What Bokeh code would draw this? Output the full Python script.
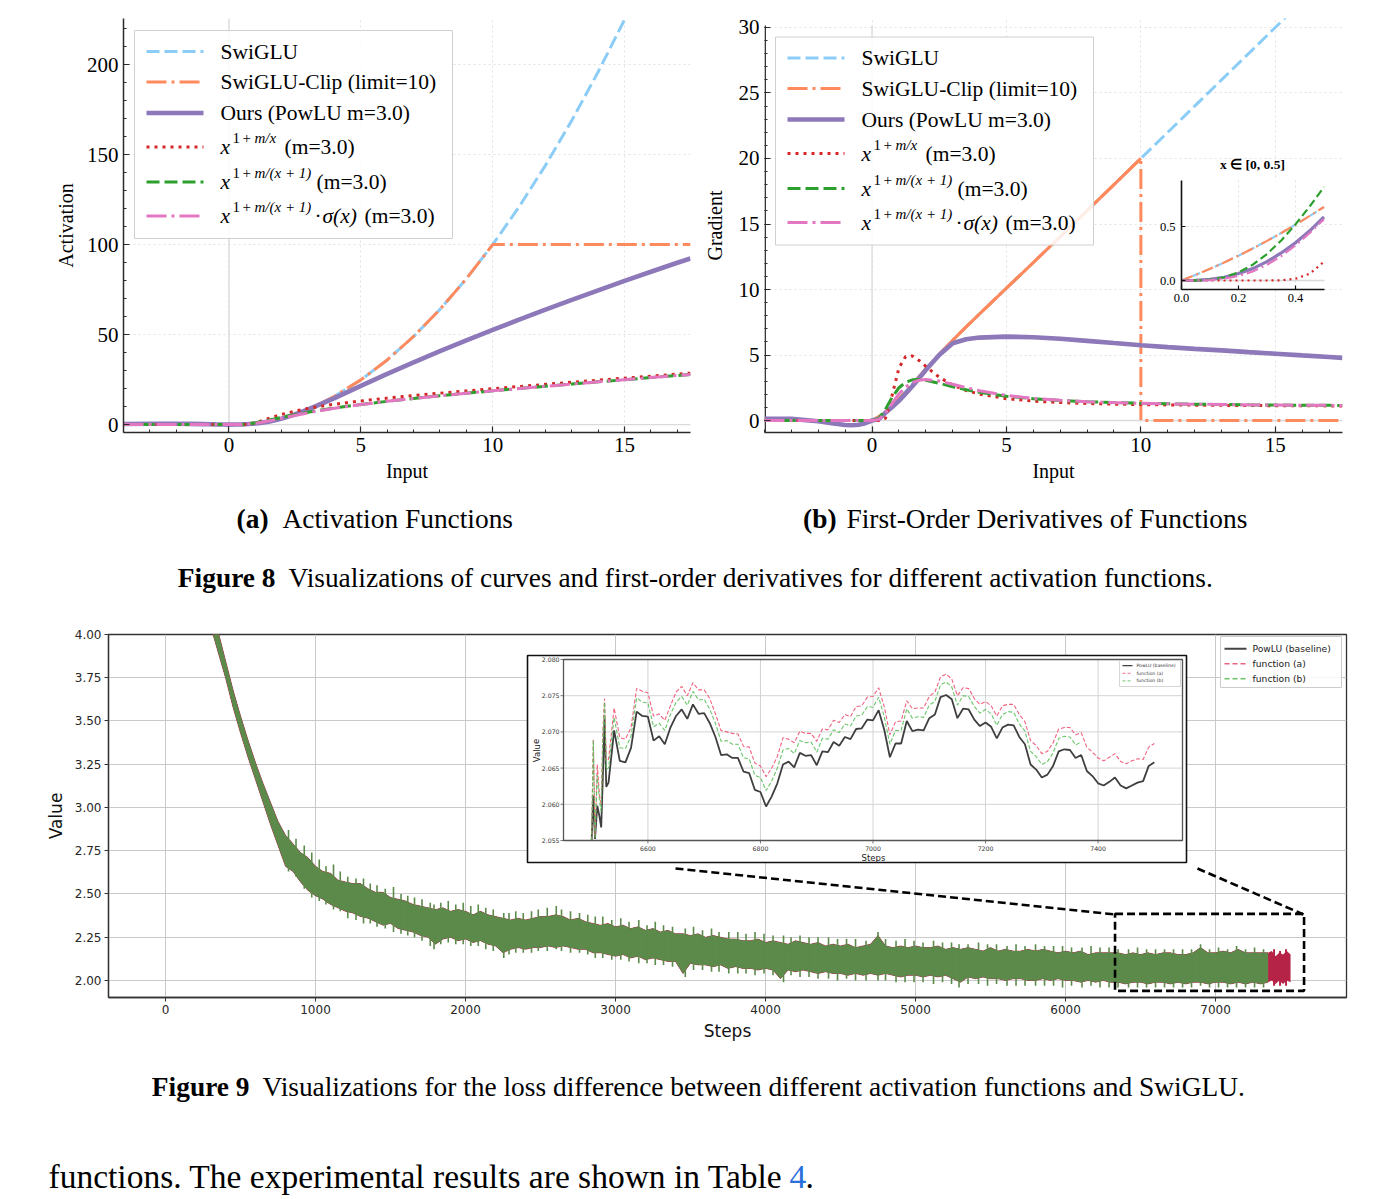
from bokeh.plotting import figure
from bokeh.layouts import column, row
from bokeh.models import Range1d, FixedTicker, Span, PrintfTickFormatter
from bokeh.core.properties import value
from bokeh.embed import file_html
from bokeh.resources import INLINE

SERIF = "Liberation Serif"
SANS = "DejaVu Sans"

# ---------------------------------------------------------------------------
# Figure 8: activation curves and their first-order derivatives
# ---------------------------------------------------------------------------
x_in = [-4, -3, -2, -1.5, -1, -0.75, -0.5, -0.25, 0,
        0.25, 0.5, 0.75, 1, 1.25, 1.5, 1.75, 2,
        2.5, 3, 3.5, 4,
        5, 6, 7, 8, 9, 10, 11, 12, 13, 14, 15, 16, 17,
        17.5]

act_swiglu = [0.288, 0.427, 0.477, 0.410, 0.269, 0.181, 0.094, 0.027, 0.0,
              0.035, 0.156, 0.382, 0.731, 1.215, 1.840, 2.609, 3.523,
              5.776, 8.573, 11.891, 15.712,
              24.83, 35.91, 48.96, 63.98, 80.99, 100.0, 121.0, 144.0, 169.0, 196.0, 225.0, 256.0, 289.0,
              306.25]
act_clip = [0.288, 0.427, 0.477, 0.410, 0.269, 0.181, 0.094, 0.027, 0.0,
            0.035, 0.156, 0.382, 0.731, 1.215, 1.840, 2.609, 3.523,
            5.776, 8.573, 11.891, 15.712,
            24.83, 35.91, 48.96, 63.98, 80.99, 100.0, 100.0, 100.0, 100.0, 100.0, 100.0, 100.0, 100.0,
            100.0]
act_ours = [0.288, 0.427, 0.477, 0.410, 0.269, 0.181, 0.094, 0.027, 0.0,
            0.01, 0.09, 0.30, 0.62, 1.06, 1.63, 2.37, 3.30,
            5.60, 8.40, 11.50, 14.70,
            21.5, 28.2, 34.6, 40.8, 46.8, 52.6, 58.3, 63.9, 69.3, 74.6, 79.8, 84.9, 89.9,
            92.3]
act_pow_x = [0.0, 0.0, 0.0, 0.0, 0.0, 0.0, 0.0, 0.0, 0.0,
             0.0, 0.008, 0.237, 1.0, 2.135, 3.375, 4.567, 5.657,
             7.507, 9.0, 10.24, 11.31,
             13.13, 14.70, 16.12, 17.45, 18.72, 19.95, 21.16, 22.34, 23.50, 24.65, 25.78, 26.91, 28.03,
             28.58]
act_pow_x1 = [0.0, 0.0, 0.0, 0.0, 0.0, 0.0, 0.0, 0.0, 0.0,
              0.009, 0.125, 0.458, 1.0, 1.683, 2.440, 3.222, 4.0,
              5.483, 6.839, 8.069, 9.190,
              11.18, 12.93, 14.52, 16.00, 17.40, 18.74, 20.03, 21.29, 22.52, 23.73, 24.92, 26.10, 27.26,
              27.84]
act_pow_sig = [0.0, 0.0, 0.0, 0.0, 0.0, 0.0, 0.0, 0.0, 0.0,
               0.005, 0.078, 0.311, 0.731, 1.308, 1.995, 2.745, 3.523,
               5.067, 6.515, 7.833, 9.025,
               11.105, 12.90, 14.51, 15.99, 17.40, 18.74, 20.03, 21.29, 22.52, 23.73, 24.92, 26.10, 27.26,
               27.84]

grad_swiglu = [0.139, 0.122, -0.057, -0.212, -0.341, -0.359, -0.319, -0.204, 0.0,
               0.296, 0.681, 1.141, 1.659, 2.214, 2.788, 3.368, 3.943,
               5.059, 6.122, 7.143, 8.139,
               10.099, 12.059, 14.032, 16.016, 18.008, 20.004, 22.0, 24.0, 26.0, 28.0, 30.0, 32.0, 34.0,
               35.0]
# the clipped variant drops to zero at the limit, so x = 10 appears twice
x_clip_grad = [-4, -3, -2, -1.5, -1, -0.75, -0.5, -0.25, 0,
               0.25, 0.5, 0.75, 1, 1.25, 1.5, 1.75, 2,
               2.5, 3, 3.5, 4,
               5, 6, 7, 8, 9, 10, 10, 11, 12, 13, 14, 15, 16, 17,
               17.5]
grad_clip = [0.139, 0.122, -0.057, -0.212, -0.341, -0.359, -0.319, -0.204, 0.0,
             0.296, 0.681, 1.141, 1.659, 2.214, 2.788, 3.368, 3.943,
             5.059, 6.122, 7.143, 8.139,
             10.099, 12.059, 14.032, 16.016, 18.008, 20.004, 0.0, 0.0, 0.0, 0.0, 0.0, 0.0, 0.0, 0.0,
             0.0]
grad_ours = [0.139, 0.122, -0.057, -0.212, -0.341, -0.359, -0.319, -0.204, 0.0,
             0.11, 0.59, 1.03, 1.50, 2.05, 2.62, 3.22, 3.85,
             5.00, 5.90, 6.20, 6.33,
             6.40, 6.36, 6.24, 6.08, 5.91, 5.75, 5.60, 5.47, 5.35, 5.22, 5.10, 4.97, 4.85,
             4.78]
grad_pow_x = [0.0, 0.0, 0.0, 0.0, 0.0, 0.0, 0.0, 0.0, 0.0,
              0.0, 0.174, 1.944, 4.0, 4.893, 4.925, 4.580, 4.130,
              3.305, 2.704, 2.292, 2.008,
              1.666, 1.480, 1.370, 1.298, 1.250, 1.216, 1.190, 1.171, 1.155, 1.142, 1.132, 1.123, 1.115,
              1.112]
grad_pow_x1 = [0.0, 0.0, 0.0, 0.0, 0.0, 0.0, 0.0, 0.0, 0.0,
               0.146, 0.866, 1.787, 2.5, 2.919, 3.104, 3.134, 3.076,
               2.843, 2.581, 2.345, 2.147,
               1.855, 1.660, 1.528, 1.435, 1.366, 1.315, 1.276, 1.245, 1.220, 1.199, 1.182, 1.168, 1.156,
               1.150]
grad_pow_sig = [0.0, 0.0, 0.0, 0.0, 0.0, 0.0, 0.0, 0.0, 0.0,
                0.084, 0.568, 1.314, 2.024, 2.560, 2.902, 3.077, 3.129,
                3.012, 2.768, 2.506, 2.271,
                1.917, 1.688, 1.540, 1.440, 1.368, 1.316, 1.276, 1.245, 1.220, 1.199, 1.182, 1.168, 1.156,
                1.150]

# close-up of the gradients on x in [0, 0.5]
x_near0 = [0.0, 0.05, 0.1, 0.15, 0.2, 0.25, 0.3, 0.35, 0.4, 0.45, 0.5]
near_swiglu = [0.0, 0.052, 0.108, 0.167, 0.230, 0.296, 0.367, 0.440, 0.517, 0.598, 0.681]
near_clip = [0.0, 0.052, 0.108, 0.167, 0.230, 0.296, 0.367, 0.440, 0.517, 0.598, 0.681]
near_ours = [0.0, 0.002, 0.010, 0.030, 0.065, 0.110, 0.175, 0.255, 0.350, 0.460, 0.590]
near_pow_x = [0.0, 0.0, 0.0, 0.0, 0.0, 0.0, 0.0002, 0.0023, 0.016, 0.063, 0.174]
near_pow_x1 = [0.0, 0.001, 0.008, 0.030, 0.075, 0.146, 0.245, 0.371, 0.520, 0.686, 0.866]
near_pow_sig = [0.0, 0.0004, 0.004, 0.017, 0.042, 0.084, 0.146, 0.226, 0.325, 0.440, 0.568]

# ---------------------------------------------------------------------------
# Figure 9: training loss (envelope of the noisy curves) and a late-stage close-up
# ---------------------------------------------------------------------------
band_steps = list(range(300, 7351, 50))
band_hi = [4.15, 4.02, 3.85, 3.68, 3.53, 3.39, 3.26, 3.14, 3.03, 2.92,
           2.84, 2.79, 2.74, 2.71, 2.66, 2.63, 2.62, 2.58, 2.57, 2.56,
           2.56, 2.53, 2.51, 2.51, 2.48, 2.47, 2.46, 2.44, 2.43, 2.42,
           2.41, 2.42, 2.40, 2.41, 2.40, 2.38, 2.40, 2.38, 2.37, 2.36,
           2.35, 2.36, 2.35, 2.36, 2.37, 2.37, 2.38, 2.37, 2.35, 2.36,
           2.34, 2.33, 2.32, 2.33, 2.31, 2.32, 2.30, 2.31, 2.29, 2.30,
           2.28, 2.29, 2.27, 2.27, 2.26, 2.27, 2.25, 2.26, 2.25, 2.24,
           2.24, 2.23, 2.23, 2.24, 2.22, 2.23, 2.22, 2.21, 2.23, 2.22,
           2.21, 2.22, 2.20, 2.21, 2.20, 2.21, 2.19, 2.20, 2.21, 2.26,
           2.20, 2.19, 2.20, 2.19, 2.20, 2.19, 2.19, 2.20, 2.18, 2.19,
           2.18, 2.19, 2.18, 2.17, 2.19, 2.17, 2.18, 2.17, 2.17, 2.18,
           2.17, 2.18, 2.17, 2.16, 2.17, 2.16, 2.17, 2.15, 2.16, 2.16,
           2.16, 2.16, 2.15, 2.16, 2.15, 2.16, 2.15, 2.16, 2.16, 2.15,
           2.15, 2.16, 2.19, 2.16, 2.16, 2.17, 2.16, 2.18, 2.16, 2.16,
           2.16, 2.16]
band_lo = [4.05, 3.90, 3.75, 3.58, 3.43, 3.29, 3.16, 3.03, 2.90, 2.78,
           2.66, 2.63, 2.57, 2.52, 2.49, 2.47, 2.44, 2.42, 2.40, 2.39,
           2.37, 2.36, 2.34, 2.32, 2.33, 2.30, 2.29, 2.28, 2.26, 2.25,
           2.21, 2.24, 2.25, 2.23, 2.24, 2.22, 2.23, 2.21, 2.20, 2.16,
           2.18, 2.19, 2.18, 2.19, 2.19, 2.20, 2.19, 2.20, 2.19, 2.18,
           2.18, 2.16, 2.16, 2.15, 2.14, 2.15, 2.13, 2.14, 2.12, 2.13,
           2.12, 2.11, 2.11, 2.04, 2.10, 2.09, 2.09, 2.08, 2.09, 2.07,
           2.08, 2.07, 2.07, 2.06, 2.07, 2.06, 2.01, 2.06, 2.05, 2.06,
           2.05, 2.04, 2.05, 2.04, 2.04, 2.03, 2.04, 2.03, 2.04, 2.03,
           2.04, 2.03, 2.02, 2.03, 2.03, 2.02, 2.03, 2.02, 2.03, 2.01,
           1.99, 2.02, 2.01, 2.02, 2.01, 2.01, 2.00, 2.01, 2.01, 2.00,
           2.00, 2.01, 2.00, 2.01, 2.00, 2.00, 1.99, 2.00, 1.99, 2.00,
           1.99, 1.99, 1.98, 1.99, 1.99, 1.98, 1.99, 1.99, 1.98, 1.99,
           1.98, 1.99, 1.99, 1.98, 1.99, 1.99, 1.98, 1.99, 1.98, 1.99,
           1.98, 1.99]
# individual excursions of the noisy curve that poke out of the band: (step, low, high)
loss_spikes = [
    (820, 2.63, 2.87), (870, 2.60, 2.82), (925, 2.53, 2.78), (975, 2.48, 2.74),
    (1025, 2.46, 2.70), (1070, 2.44, 2.66), (1120, 2.41, 2.67), (1165, 2.40, 2.63),
    (1215, 2.36, 2.60), (1270, 2.35, 2.59), (1320, 2.33, 2.59), (1365, 2.33, 2.56),
    (1410, 2.31, 2.55), (1465, 2.30, 2.53), (1520, 2.28, 2.54), (1570, 2.27, 2.50),
    (1615, 2.26, 2.49), (1660, 2.25, 2.48), (1710, 2.23, 2.47), (1765, 2.20, 2.45),
    (1790, 2.18, 2.44), (1835, 2.21, 2.45), (1885, 2.22, 2.46), (1935, 2.21, 2.44),
    (1985, 2.21, 2.45), (2035, 2.20, 2.43), (2085, 2.20, 2.44), (2135, 2.18, 2.42),
    (2185, 2.17, 2.41), (2255, 2.13, 2.39), (2290, 2.15, 2.39), (2335, 2.16, 2.40),
    (2385, 2.16, 2.39), (2440, 2.16, 2.40), (2485, 2.17, 2.41), (2545, 2.17, 2.42),
    (2605, 2.18, 2.43), (2640, 2.17, 2.41), (2700, 2.16, 2.40), (2760, 2.16, 2.39),
    (2815, 2.15, 2.38), (2865, 2.13, 2.37), (2915, 2.13, 2.37), (2975, 2.12, 2.35),
    (3035, 2.12, 2.36), (3090, 2.11, 2.34), (3155, 2.10, 2.35), (3210, 2.10, 2.32),
    (3265, 2.09, 2.34), (3320, 2.09, 2.32), (3380, 2.08, 2.31), (3465, 2.02, 2.30),
    (3520, 2.06, 2.31), (3580, 2.06, 2.29), (3640, 2.05, 2.30), (3690, 2.05, 2.28),
    (3755, 2.04, 2.28), (3815, 2.04, 2.28), (3870, 2.04, 2.27), (3930, 2.03, 2.28),
    (3990, 2.04, 2.27), (4050, 2.03, 2.26), (4120, 1.99, 2.26), (4170, 2.03, 2.25),
    (4230, 2.02, 2.26), (4290, 2.02, 2.25), (4350, 2.01, 2.25), (4420, 2.01, 2.25),
    (4480, 2.00, 2.24), (4540, 2.01, 2.24), (4600, 2.00, 2.24), (4670, 2.00, 2.23),
    (4750, 2.00, 2.28), (4800, 2.00, 2.24), (4870, 1.99, 2.23), (4930, 1.99, 2.24),
    (4990, 1.99, 2.23), (5050, 1.99, 2.22), (5120, 1.98, 2.23), (5180, 1.99, 2.22),
    (5240, 1.98, 2.22), (5290, 1.96, 2.21), (5350, 1.98, 2.21), (5420, 1.98, 2.22),
    (5480, 1.97, 2.21), (5540, 1.98, 2.21), (5610, 1.97, 2.20), (5670, 1.97, 2.21),
    (5730, 1.97, 2.20), (5800, 1.97, 2.21), (5860, 1.97, 2.20), (5920, 1.97, 2.20),
    (5980, 1.96, 2.20), (6040, 1.97, 2.19), (6110, 1.96, 2.19), (6170, 1.97, 2.20),
    (6230, 1.96, 2.19), (6290, 1.96, 2.19), (6350, 1.96, 2.18), (6420, 1.96, 2.18),
    (6480, 1.96, 2.19), (6540, 1.96, 2.18), (6600, 1.96, 2.18), (6660, 1.96, 2.18),
    (6720, 1.96, 2.18), (6780, 1.96, 2.18), (6840, 1.96, 2.18), (6900, 1.97, 2.21),
    (6960, 1.96, 2.18), (7020, 1.96, 2.19), (7080, 1.96, 2.18), (7140, 1.96, 2.20),
    (7200, 1.96, 2.18), (7260, 1.96, 2.19), (7320, 1.96, 2.18),
]
# function (a) runs a little longer than the other two
tail_steps = [7350, 7375, 7400, 7425, 7450, 7475, 7500]
tail_hi = [2.16, 2.17, 2.14, 2.16, 2.15, 2.17, 2.15]
tail_lo = [1.99, 2.00, 1.98, 2.00, 1.98, 2.00, 1.99]
tail_spikes = [(7390, 1.97, 2.18), (7430, 1.97, 2.17), (7470, 1.97, 2.18)]

zoom_steps = (6330, 7590)
zoom_values = (1.94, 2.385)

close_steps = [6500, 6503, 6506, 6510, 6514, 6517, 6520, 6523, 6526] + list(range(6530, 7501, 10))
close_base = [2.0550, 2.0612, 2.0552, 2.0598, 2.0583, 2.0568, 2.0640, 2.0718, 2.0624,
              2.0630, 2.0702, 2.0660, 2.0658, 2.0678, 2.0728, 2.0722, 2.0721, 2.0688, 2.0694,
              2.0683, 2.0706, 2.0722, 2.0731, 2.0718, 2.0738, 2.0725, 2.0726, 2.0712, 2.0693,
              2.0668, 2.0669, 2.0664, 2.0664, 2.0645, 2.0643, 2.0620, 2.0617, 2.0597, 2.0611,
              2.0629, 2.0655, 2.0659, 2.0651, 2.0671, 2.0667, 2.0668, 2.0654, 2.0673, 2.0672,
              2.0686, 2.0681, 2.0693, 2.0690, 2.0704, 2.0705, 2.0717, 2.0716, 2.0730, 2.0703,
              2.0665, 2.0684, 2.0684, 2.0715, 2.0701, 2.0703, 2.0702, 2.0719, 2.0724, 2.0748,
              2.0751, 2.0745, 2.0719, 2.0732, 2.0731, 2.0717, 2.0708, 2.0713, 2.0707, 2.0691,
              2.0706, 2.0710, 2.0709, 2.0693, 2.0683, 2.0655, 2.0648, 2.0637, 2.0641, 2.0653,
              2.0673, 2.0676, 2.0675, 2.0664, 2.0668, 2.0646, 2.0639, 2.0629, 2.0626, 2.0631,
              2.0637, 2.0626, 2.0622, 2.0626, 2.0630, 2.0632, 2.0653, 2.0658]
close_a = [2.0550, 2.0690, 2.0556, 2.0655, 2.0612, 2.0600, 2.0702, 2.0746, 2.0660,
           2.0662, 2.0733, 2.0692, 2.0690, 2.0706, 2.0760, 2.0756, 2.0754, 2.0722, 2.0725,
           2.0716, 2.0736, 2.0755, 2.0763, 2.0750, 2.0768, 2.0758, 2.0758, 2.0746, 2.0725,
           2.0702, 2.0700, 2.0698, 2.0697, 2.0680, 2.0679, 2.0657, 2.0653, 2.0638, 2.0650,
           2.0666, 2.0692, 2.0690, 2.0685, 2.0701, 2.0698, 2.0698, 2.0687, 2.0704, 2.0703,
           2.0716, 2.0713, 2.0724, 2.0721, 2.0735, 2.0736, 2.0748, 2.0749, 2.0761, 2.0735,
           2.0696, 2.0714, 2.0715, 2.0743, 2.0732, 2.0733, 2.0733, 2.0749, 2.0755, 2.0776,
           2.0780, 2.0773, 2.0750, 2.0761, 2.0760, 2.0746, 2.0738, 2.0742, 2.0736, 2.0722,
           2.0736, 2.0738, 2.0738, 2.0724, 2.0714, 2.0688, 2.0681, 2.0670, 2.0673, 2.0685,
           2.0704, 2.0706, 2.0706, 2.0696, 2.0699, 2.0679, 2.0672, 2.0664, 2.0660, 2.0665,
           2.0670, 2.0659, 2.0656, 2.0660, 2.0663, 2.0662, 2.0679, 2.0684]
close_b = [2.0550, 2.0688, 2.0553, 2.0640, 2.0604, 2.0590, 2.0690, 2.0741, 2.0648,
           2.0650, 2.0720, 2.0678, 2.0677, 2.0694, 2.0747, 2.0741, 2.0740, 2.0707, 2.0712,
           2.0702, 2.0724, 2.0741, 2.0749, 2.0737, 2.0756, 2.0744, 2.0745, 2.0731, 2.0712,
           2.0687, 2.0688, 2.0683, 2.0683, 2.0664, 2.0663, 2.0640, 2.0637, 2.0619, 2.0632,
           2.0650, 2.0675, 2.0677, 2.0670, 2.0688, 2.0685, 2.0686, 2.0672, 2.0691, 2.0690,
           2.0703, 2.0699, 2.0711, 2.0708, 2.0722, 2.0723, 2.0735, 2.0734, 2.0748, 2.0721,
           2.0683, 2.0702, 2.0702, 2.0732, 2.0719, 2.0721, 2.0720, 2.0737, 2.0742, 2.0765,
           2.0769, 2.0762, 2.0737, 2.0750, 2.0749, 2.0735, 2.0726, 2.0731, 2.0725, 2.0709,
           2.0724, 2.0728, 2.0727, 2.0711, 2.0701, 2.0673, 2.0666, 2.0655, 2.0659, 2.0671,
           2.0691, 2.0694, 2.0693, 2.0682, 2.0686]
close_steps_b = close_steps[:len(close_b)]


# ---------------------------------------------------------------------------
# helpers
# ---------------------------------------------------------------------------
def mapped_range(d0, d1, p0, p1, f_start, f_end):
    """Range whose values d0/d1 land on page pixels p0/p1 for a frame spanning f_start..f_end."""
    k = (d1 - d0) / (p1 - p0)
    return Range1d(start=d0 + (f_start - p0) * k, end=d0 + (f_end - p0) * k)


def txt(p, x, y, s, size, font=SERIF, style="normal", color="#000000", align="left",
        baseline="middle", angle=0.0, xr="px", yr="py"):
    p.text(x=[x], y=[y], text=[s], text_font=value(font), text_font_size=size,
           text_font_style=style, text_color=color, text_align=align,
           text_baseline=baseline, angle=angle, x_range_name=xr, y_range_name=yr)


def segs(p, x0, y0, x1, y1, color, width=1.0, dash="solid", xr="px", yr="py", alpha=1.0):
    p.segment(x0=x0, y0=y0, x1=x1, y1=y1, line_color=color, line_width=width,
              line_dash=dash, line_alpha=alpha, x_range_name=xr, y_range_name=yr)


ORANGE = "#FF8A5E"
CURVE_STYLES = [
    dict(line_color="#8CCDF7", line_dash="13 5", line_width=3.0),          # SwiGLU
    dict(line_color=ORANGE, line_dash="20 5 3 5", line_width=3.0),         # SwiGLU-Clip
    dict(line_color="#8D78B9", line_dash="solid", line_width=4.6),         # Ours
    dict(line_color="#D62728", line_dash="3 5", line_width=3.0),           # x^(1+m/x)
    dict(line_color="#2CA02C", line_dash="13 5", line_width=3.0),          # x^(1+m/(x+1))
    dict(line_color="#E377C2", line_dash="20 5 3 5", line_width=3.0),     # ... * sigma(x)
]
NEAR_STYLES = [
    dict(line_color="#8CCDF7", line_dash="8 4", line_width=2.2),
    dict(line_color=ORANGE, line_dash="12 4 2 4", line_width=2.2),
    dict(line_color="#8D78B9", line_dash="solid", line_width=3.2),
    dict(line_color="#D62728", line_dash="2 4", line_width=2.2),
    dict(line_color="#2CA02C", line_dash="8 4", line_width=2.2),
    dict(line_color="#E377C2", line_dash="12 4 2 4", line_width=2.2),
]
LEGEND_ROWS = [21, 51.5, 82.5, 116.5, 151.5, 185.5]


def curve_panel(left, right, fw, xr, yr, yticks, yminor, ylabel, label_standoff):
    p = figure(frame_width=fw, frame_height=414, x_range=xr, y_range=yr,
               min_border_left=left, min_border_right=right, min_border_top=18,
               min_border_bottom=63, output_backend="svg", toolbar_location=None,
               background_fill_color="white", border_fill_color="white",
               outline_line_color=None)
    p.xaxis.ticker = FixedTicker(ticks=[0, 5, 10, 15], minor_ticks=list(range(-4, 18)))
    p.yaxis.ticker = FixedTicker(ticks=yticks, minor_ticks=yminor)
    for ax in (p.xaxis[0], p.yaxis[0]):
        ax.axis_line_color = "#2b2b2b"
        ax.axis_line_width = 1.5
        ax.major_tick_in = 6
        ax.major_tick_out = 0
        ax.minor_tick_in = 3
        ax.minor_tick_out = 0
        ax.major_tick_line_color = "#2b2b2b"
        ax.minor_tick_line_color = "#2b2b2b"
        ax.major_tick_line_width = 1.2
        ax.minor_tick_line_width = 1.0
        ax.major_label_text_font = SERIF
        ax.major_label_text_font_size = "21px"
        ax.major_label_text_color = "#000000"
        ax.major_label_standoff = 5
        ax.axis_label_text_font = SERIF
        ax.axis_label_text_font_size = "20px"
        ax.axis_label_text_font_style = "normal"
        ax.axis_label_text_color = "#000000"
    p.xaxis.axis_label = "Input"
    p.xaxis.axis_label_standoff = 5
    p.yaxis.axis_label = ylabel
    p.yaxis.axis_label_standoff = label_standoff
    p.grid.grid_line_color = "#e2e2e2"
    p.grid.grid_line_dash = "2 3"
    p.grid.grid_line_width = 1.0
    p.add_layout(Span(location=0, dimension="width", line_color="#dadada", line_width=1.3,
                      level="underlay"))
    return p


def curve_legend(p, bx, by):
    p.quad(left=[bx], right=[bx + 318], top=[by], bottom=[by + 208],
           fill_color="white", fill_alpha=0.85, line_color="#d0d0d0", line_width=1.0,
           x_range_name="px", y_range_name="py")
    rows = [by + d for d in LEGEND_ROWS]
    for r, st in zip(rows, CURVE_STYLES):
        p.segment(x0=[bx + 12], y0=[r], x1=[bx + 69], y1=[r],
                  x_range_name="px", y_range_name="py", **st)
    tx = bx + 86
    txt(p, tx, rows[0], "SwiGLU", "21.5px")
    txt(p, tx, rows[1], "SwiGLU-Clip (limit=10)", "21.5px")
    txt(p, tx, rows[2], "Ours (PowLU m=3.0)", "21.5px")
    for i, r in enumerate(rows[3:]):
        txt(p, tx, r, "x", "21.5px", style="italic")
        txt(p, tx + 12, r - 9, "1", "15px")
        txt(p, tx + 22, r - 9, "+", "15px")
        txt(p, tx + 34, r - 9, "m/x" if i == 0 else "m/(x + 1)", "15px", style="italic")
    txt(p, tx + 64, rows[3], "(m=3.0)", "21.5px")
    txt(p, tx + 96, rows[4], "(m=3.0)", "21.5px")
    txt(p, tx + 94, rows[5], "·", "21.5px")
    txt(p, tx + 102, rows[5], "σ(x)", "21.5px", style="italic")
    txt(p, tx + 144, rows[5], "(m=3.0)", "21.5px")


# ---------------------------------------------------------------------------
# (a) activation functions
# ---------------------------------------------------------------------------
pa = curve_panel(123, 10, 567, Range1d(-4, 17.5), Range1d(-4.4, 225.6),
                 [0, 50, 100, 150, 200], list(range(0, 230, 10)), "Activation", 7)
pa.extra_x_ranges = {"px": Range1d(123, 690)}
pa.extra_y_ranges = {"py": Range1d(432, 18)}
pa.add_layout(Span(location=0, dimension="height", line_color="#dadada", line_width=1.3,
                   level="underlay"))
for ys, st in zip([act_swiglu, act_clip, act_ours, act_pow_x, act_pow_x1, act_pow_sig], CURVE_STYLES):
    pa.line(x_in, ys, **st)
curve_legend(pa, 134, 30)

# ---------------------------------------------------------------------------
# (b) first-order derivatives, with a close-up near the origin
# ---------------------------------------------------------------------------
pb = curve_panel(62, 57, 578, Range1d(-4, 17.5), Range1d(-0.916, 30.687),
                 [0, 5, 10, 15, 20, 25, 30], list(range(0, 31)), "Gradient", 10)
NEAR = dict(left=1179, right=1322, top=180, bottom=289)
pb.extra_x_ranges = {"px": Range1d(762, 1340),
                     "ix": mapped_range(0.0, 0.5, NEAR["left"], 1321.5, 762, 1340)}
pb.extra_y_ranges = {"py": Range1d(432, 18),
                     "iy": mapped_range(0.0, 0.5, 280, 226, 432, 18)}
# left spine of this panel stops at the top tick
pb.yaxis.axis_line_color = None
segs(pb, [762.7], [25], [762.7], [432], "#2b2b2b", 1.5)
pb.segment(x0=[0], y0=[25], x1=[0], y1=[432], line_color="#dadada", line_width=1.3,
           y_range_name="py")
grad_x = [x_in, x_clip_grad, x_in, x_in, x_in, x_in]
grad_y = [grad_swiglu, grad_clip, grad_ours, grad_pow_x, grad_pow_x1, grad_pow_sig]
for i, (xs, ys, st) in enumerate(zip(grad_x, grad_y, CURVE_STYLES)):
    pb.line(xs, ys, **st)
    if i == 1:
        # the rising part of the clipped gradient reads as one continuous stroke
        pb.line(xs[17:27], ys[17:27], line_color=ORANGE, line_width=3.0)
curve_legend(pb, 773, 36.5)

# close-up panel
pb.quad(left=[NEAR["left"]], right=[NEAR["right"]], top=[NEAR["top"]], bottom=[NEAR["bottom"]],
        fill_color="white", line_color=None, x_range_name="px", y_range_name="py")
near_xt = [0.0, 0.2, 0.4]
near_yt = [0.0, 0.5]
segs(pb, near_xt, [NEAR["top"]] * 3, near_xt, [NEAR["bottom"]] * 3, "#e0e0e0", 1.0, "2 3", xr="ix")
segs(pb, [NEAR["left"]], [0.5], [NEAR["right"]], [0.5], "#e0e0e0", 1.0, "2 3", yr="iy")
segs(pb, [NEAR["left"]], [0.0], [NEAR["right"]], [0.0], "#dadada", 1.5, yr="iy")
for ys, st in zip([near_swiglu, near_clip, near_ours, near_pow_x, near_pow_x1, near_pow_sig], NEAR_STYLES):
    pb.line(x_near0, ys, x_range_name="ix", y_range_name="iy", **st)
segs(pb, [NEAR["left"], NEAR["left"]], [NEAR["top"], NEAR["bottom"]],
     [NEAR["left"], NEAR["right"]], [NEAR["bottom"], NEAR["bottom"]], "#111111", 1.6)
segs(pb, [NEAR["left"]] * 2, near_yt, [NEAR["left"] + 4] * 2, near_yt, "#111111", 1.2, yr="iy")
segs(pb, near_xt, [NEAR["bottom"]] * 3, near_xt, [NEAR["bottom"] - 4] * 3, "#111111", 1.2, xr="ix")
for t in near_yt:
    txt(pb, NEAR["left"] - 6, t, "%.1f" % t, "12.5px", align="right", yr="iy")
for t in near_xt:
    txt(pb, t, NEAR["bottom"] + 8, "%.1f" % t, "12.5px", align="center", xr="ix")
txt(pb, 1250, 164, "x ∈ [0, 0.5]", "13.5px", style="bold", align="center")


# ---------------------------------------------------------------------------
# full-width caption strips (page pixel coordinates)
# ---------------------------------------------------------------------------
def caption_strip(y_top, y_bottom):
    return figure(frame_width=1397, frame_height=y_bottom - y_top, x_range=Range1d(0, 1397),
                  y_range=Range1d(y_bottom, y_top), x_axis_type=None, y_axis_type=None,
                  min_border=0, output_backend="svg", toolbar_location=None,
                  outline_line_color=None, background_fill_color="white",
                  border_fill_color="white")


def cap_text(p, x, y, s, size, style="normal", color="#000000", align="left"):
    txt(p, x, y, s, size, style=style, color=color, align=align, xr="default", yr="default")


cap8 = caption_strip(495, 615)
cap_text(cap8, 268, 518, "(a)", "27.4px", style="bold", align="right")
cap_text(cap8, 282, 518, "Activation Functions", "27.4px")
cap_text(cap8, 836, 518, "(b)", "27.4px", style="bold", align="right")
cap_text(cap8, 846, 518, "First-Order Derivatives of Functions", "27.4px")
cap_text(cap8, 275, 577, "Figure 8", "27.4px", style="bold", align="right")
cap_text(cap8, 288, 577,
         "Visualizations of curves and first-order derivatives for different activation functions.",
         "27.4px")

# ---------------------------------------------------------------------------
# Figure 9: loss curves
# ---------------------------------------------------------------------------
pc = figure(frame_width=1238, frame_height=363, x_range=Range1d(-380, 7873),
            y_range=Range1d(1.9017, 4.0), min_border_left=108, min_border_right=51,
            min_border_top=19, min_border_bottom=63, output_backend="svg",
            toolbar_location=None, background_fill_color="white", border_fill_color="white",
            outline_line_color="#333333", outline_line_width=1.3)
pc.xaxis.ticker = FixedTicker(ticks=[0, 1000, 2000, 3000, 4000, 5000, 6000, 7000])
pc.yaxis.ticker = FixedTicker(ticks=[2.0, 2.25, 2.5, 2.75, 3.0, 3.25, 3.5, 3.75, 4.0])
pc.yaxis.formatter = PrintfTickFormatter(format="%.2f")
for ax in (pc.xaxis[0], pc.yaxis[0]):
    ax.axis_line_color = "#333333"
    ax.axis_line_width = 1.3
    ax.major_tick_in = 0
    ax.major_tick_out = 4
    ax.minor_tick_in = 0
    ax.minor_tick_out = 0
    ax.major_tick_line_color = "#333333"
    ax.major_label_text_font = SANS
    ax.major_label_text_font_size = "12px"
    ax.major_label_text_color = "#262626"
    ax.major_label_standoff = 3
    ax.axis_label_text_font = SANS
    ax.axis_label_text_font_size = "17px"
    ax.axis_label_text_font_style = "normal"
    ax.axis_label_text_color = "#111111"
pc.xaxis.axis_label = "Steps"
pc.xaxis.axis_label_standoff = 4
pc.yaxis.axis_label = "Value"
pc.yaxis.axis_label_standoff = 6
pc.grid.grid_line_color = "#c9c9c9"
pc.grid.grid_line_width = 1.0

CLOSE = dict(left=563, right=1182, top=659, bottom=840)
pc.extra_x_ranges = {"px": Range1d(108, 1346),
                     "ix": mapped_range(6450, 7550, CLOSE["left"], CLOSE["right"], 108, 1346)}
pc.extra_y_ranges = {"py": Range1d(997, 634),
                     "iy": mapped_range(2.055, 2.080, CLOSE["bottom"], CLOSE["top"], 997, 634)}

# noisy loss bands (the three runs coincide at this scale)
GREEN_BAND = "#5b8a4b"
CRIMSON_BAND = "#b52346"
sp_steps = [s for s, _, _ in loss_spikes]
sp_low = [lo for _, lo, _ in loss_spikes]
sp_high = [hi for _, _, hi in loss_spikes]
pc.varea(x=band_steps, y1=band_lo, y2=band_hi, fill_color="#3c3c3c")
pc.varea(x=band_steps, y1=band_lo, y2=band_hi, fill_color=CRIMSON_BAND)
pc.varea(x=tail_steps, y1=tail_lo, y2=tail_hi, fill_color=CRIMSON_BAND)
pc.segment(x0=[s for s, _, _ in tail_spikes], y0=[lo for _, lo, _ in tail_spikes],
           x1=[s for s, _, _ in tail_spikes], y1=[hi for _, _, hi in tail_spikes],
           line_color=CRIMSON_BAND, line_width=2.0)
pc.line(band_steps, band_hi, line_color=CRIMSON_BAND, line_width=0.8, line_alpha=0.8)
pc.line(band_steps, band_lo, line_color=CRIMSON_BAND, line_width=0.8, line_alpha=0.8)
pc.varea(x=band_steps, y1=band_lo, y2=band_hi, fill_color=GREEN_BAND)
pc.segment(x0=sp_steps, y0=sp_low, x1=sp_steps, y1=sp_high, line_color=GREEN_BAND,
           line_width=1.6)

# zoomed window and its connectors
pc.quad(left=[zoom_steps[0]], right=[zoom_steps[1]], bottom=[zoom_values[0]], top=[zoom_values[1]],
        fill_alpha=0, line_color="#000000", line_width=2.6, line_dash="8 4")
segs(pc, [675, 1197], [868, 868], [1115, 1303], [914, 914], "#000000", 2.6, "8 4")

# close-up panel
pc.quad(left=[527], right=[1186], top=[655], bottom=[862], fill_color="white",
        line_color="#111111", line_width=1.6, x_range_name="px", y_range_name="py")
close_xt = [6600, 6800, 7000, 7200, 7400]
close_yt = [2.060, 2.065, 2.070, 2.075]
close_yl = [2.055, 2.060, 2.065, 2.070, 2.075, 2.080]
segs(pc, close_xt, [CLOSE["top"]] * 5, close_xt, [CLOSE["bottom"]] * 5, "#d3d3d3", 1.0, xr="ix")
segs(pc, [CLOSE["left"]] * 4, close_yt, [CLOSE["right"]] * 4, close_yt, "#d3d3d3", 1.0, yr="iy")
pc.line(close_steps, close_base, line_color="#3f3f3f", line_width=1.8,
        x_range_name="ix", y_range_name="iy")
pc.line(close_steps, close_a, line_color="#F0627F", line_width=1.1, line_dash="4 2",
        x_range_name="ix", y_range_name="iy")
pc.line(close_steps_b, close_b, line_color="#5CC05C", line_width=1.1, line_dash="4 2",
        line_alpha=0.9, x_range_name="ix", y_range_name="iy")
pc.quad(left=[CLOSE["left"]], right=[CLOSE["right"]], top=[CLOSE["top"]], bottom=[CLOSE["bottom"]],
        fill_alpha=0, line_color="#555555", line_width=1.3, x_range_name="px", y_range_name="py")
segs(pc, [CLOSE["left"] - 3] * 6, close_yl, [CLOSE["left"]] * 6, close_yl, "#555555", 0.8, yr="iy")
segs(pc, close_xt, [CLOSE["bottom"]] * 5, close_xt, [CLOSE["bottom"] + 3] * 5, "#555555", 0.8, xr="ix")
for t in close_yl:
    txt(pc, CLOSE["left"] - 4, t, "%.3f" % t, "6.2px", font=SANS, color="#333333",
        align="right", yr="iy")
for t in close_xt:
    txt(pc, t, CLOSE["bottom"] + 7.5, "%d" % t, "6.2px", font=SANS, color="#333333",
        align="center", xr="ix")
txt(pc, 873, 857, "Steps", "8.5px", font=SANS, color="#222222", align="center")
txt(pc, 536, 750, "Value", "8.5px", font=SANS, color="#222222", align="center", angle=1.5708)

# close-up legend
pc.quad(left=[1119], right=[1180], top=[660], bottom=[686], fill_color="white", fill_alpha=0.85,
        line_color="#cccccc", line_width=0.8, x_range_name="px", y_range_name="py")
small_rows = [665.2, 672.8, 680.4]
segs(pc, [1122], [small_rows[0]], [1132], [small_rows[0]], "#3f3f3f", 1.3)
segs(pc, [1122], [small_rows[1]], [1132], [small_rows[1]], "#F0627F", 0.9, "3 2")
segs(pc, [1122], [small_rows[2]], [1132], [small_rows[2]], "#5CC05C", 0.9, "3 2")
for r, s in zip(small_rows, ["PowLU (baseline)", "function (a)", "function (b)"]):
    txt(pc, 1136, r, s, "4.6px", font=SANS, color="#333333")

# main legend
pc.quad(left=[1220], right=[1341], top=[636], bottom=[687], fill_color="white", fill_alpha=0.85,
        line_color="#cccccc", line_width=1.0, x_range_name="px", y_range_name="py")
big_rows = [648.3, 663.3, 678.3]
segs(pc, [1224], [big_rows[0]], [1246], [big_rows[0]], "#444444", 2.0)
segs(pc, [1224], [big_rows[1]], [1246], [big_rows[1]], "#F0627F", 1.6, "5 3")
segs(pc, [1224], [big_rows[2]], [1246], [big_rows[2]], "#6BC66B", 1.6, "5 3")
for r, s in zip(big_rows, ["PowLU (baseline)", "function (a)", "function (b)"]):
    txt(pc, 1252, r, s, "9.2px", font=SANS, color="#222222")

# ---------------------------------------------------------------------------
# Figure 9 caption and following body text
# ---------------------------------------------------------------------------
cap9 = caption_strip(1060, 1199)
cap_text(cap9, 249, 1086, "Figure 9", "27.4px", style="bold", align="right")
cap_text(cap9, 262, 1086,
         "Visualizations for the loss difference between different activation functions and SwiGLU.",
         "27.4px")
cap_text(cap9, 48, 1176, "functions. The experimental results are shown in Table", "33.5px")
cap_text(cap9, 789, 1176, "4", "33.5px", color="#2a6fdb")
cap_text(cap9, 805, 1176, ".", "33.5px")

# captions sit in their own rows so their borders are not tied to the loss chart's axes
page = column(row(pa, pb), row(cap8), pc, row(cap9))
open("out.html", "w").write(file_html(page, INLINE))
